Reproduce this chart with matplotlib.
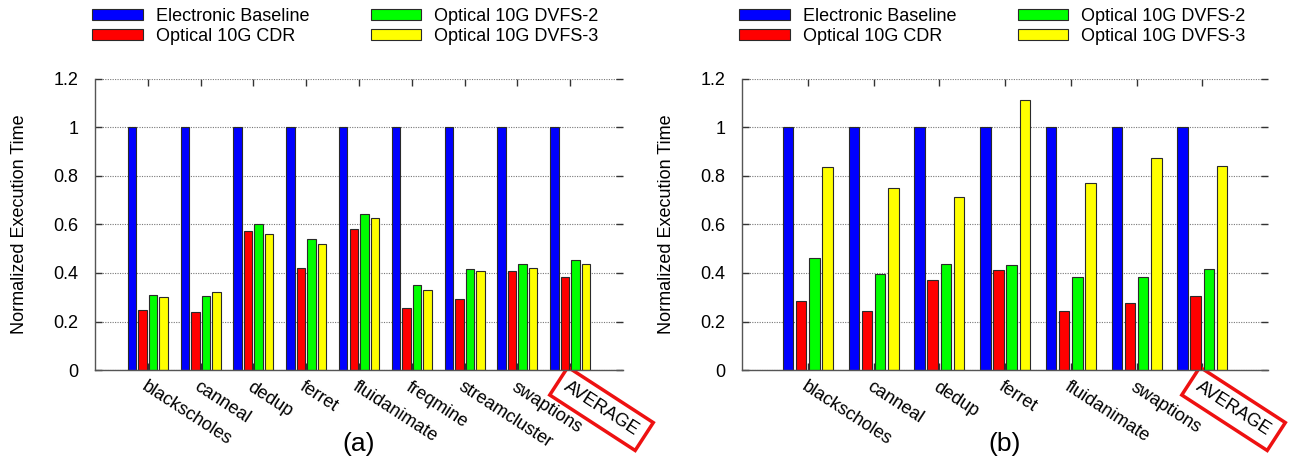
import numpy as np
import matplotlib
matplotlib.use('Agg')
import matplotlib.pyplot as plt

# ========== 字型設定 ==========
plt.rcParams['font.family'] = ['Liberation Sans', 'DejaVu Sans']
plt.rcParams['font.size'] = 13

# ========== 數據 ==========
series_names = ['Electronic Baseline', 'Optical 10G CDR', 'Optical 10G DVFS-2', 'Optical 10G DVFS-3']
series_colors = ['#0000ff', '#ff0000', '#00ff00', '#ffff00']

# (a)
bench_a = ['blackscholes', 'canneal', 'dedup', 'ferret', 'fluidanimate',
           'freqmine', 'streamcluster', 'swaptions', 'AVERAGE']
baseline_a = [1.0, 1.0, 1.0, 1.0, 1.0, 1.0, 1.0, 1.0, 1.0]
cdr_a = [0.247, 0.239, 0.573, 0.419, 0.580, 0.255, 0.291, 0.408, 0.383]
dvfs2_a = [0.308, 0.305, 0.604, 0.540, 0.643, 0.349, 0.416, 0.437, 0.452]
dvfs3_a = [0.300, 0.320, 0.559, 0.521, 0.626, 0.330, 0.409, 0.422, 0.437]

# (b)
bench_b = ['blackscholes', 'canneal', 'dedup', 'ferret', 'fluidanimate',
           'swaptions', 'AVERAGE']
baseline_b = [1.0, 1.0, 1.0, 1.0, 1.0, 1.0, 1.0]
cdr_b = [0.286, 0.245, 0.373, 0.414, 0.245, 0.278, 0.306]
dvfs2_b = [0.460, 0.394, 0.438, 0.435, 0.384, 0.384, 0.417]
dvfs3_b = [0.837, 0.750, 0.714, 1.112, 0.769, 0.876, 0.841]

y_ticks = [0, 0.2, 0.4, 0.6, 0.8, 1.0, 1.2]
y_ticklabels = ['0', '0.2', '0.4', '0.6', '0.8', '1', '1.2']


def draw_panel(ax, labels, groups, panel_tag, tag_x):
    n = len(labels)
    x = np.arange(1, n + 1)
    offsets = [-0.3, -0.1, 0.1, 0.3]
    for vals, off, color, name in zip(groups, offsets, series_colors, series_names):
        ax.bar(x + off, vals, width=0.16, color=color, edgecolor='#2a2a2a',
               linewidth=0.8, label=name, zorder=2)

    ax.set_xlim(0, n + 1)
    ax.set_ylim(0, 1.2)
    ax.set_yticks(y_ticks)
    ax.set_yticklabels(y_ticklabels)
    ax.set_xticks(x)
    ax.set_xticklabels(labels, rotation=-33, ha='left', va='top',
                       rotation_mode='anchor')
    ax.set_ylabel('Normalized Execution Time', fontsize=13, labelpad=18)

    # 虛線格線
    ax.grid(axis='y', linestyle=(0, (1, 1.2)), color='#777777', linewidth=0.8, zorder=0)
    ax.set_axisbelow(True)

    for side in ['top', 'right']:
        ax.spines[side].set_visible(False)
    for side in ['left', 'bottom']:
        ax.spines[side].set_color('#555555')
        ax.spines[side].set_linewidth(1.0)

    ax.tick_params(axis='both', direction='in', top=True, right=True,
                   length=5, width=1, color='#333333', pad=12)
    ax.tick_params(axis='x', pad=6)

    # AVERAGE 紅框
    avg_label = ax.get_xticklabels()[-1]
    avg_label.set_bbox(dict(boxstyle='square,pad=0.45', fc='none',
                            ec='#ee1111', lw=2.5))

    ax.legend(loc='upper left', bbox_to_anchor=(ax.get_position().x0 - 0.002, 0.982),
              bbox_transform=ax.figure.transFigure, ncol=2, frameon=False,
              fontsize=13, handlelength=2.8, handleheight=0.55, handletextpad=0.7,
              columnspacing=3.4, labelspacing=0.15, borderpad=0, borderaxespad=0)

    ax.figure.text(tag_x, 0.04, panel_tag, ha='center', va='center', fontsize=19)


fig = plt.figure(figsize=(12.91, 4.62), dpi=100)
ax_a = fig.add_axes([0.0736, 0.1991, 0.409, 0.630])
ax_b = fig.add_axes([0.5748, 0.1991, 0.4074, 0.630])

draw_panel(ax_a, bench_a, [baseline_a, cdr_a, dvfs2_a, dvfs3_a], '(a)', 0.278)
draw_panel(ax_b, bench_b, [baseline_b, cdr_b, dvfs2_b, dvfs3_b], '(b)', 0.778)

fig.savefig('out.png', dpi=100)
print("saved out.png")
